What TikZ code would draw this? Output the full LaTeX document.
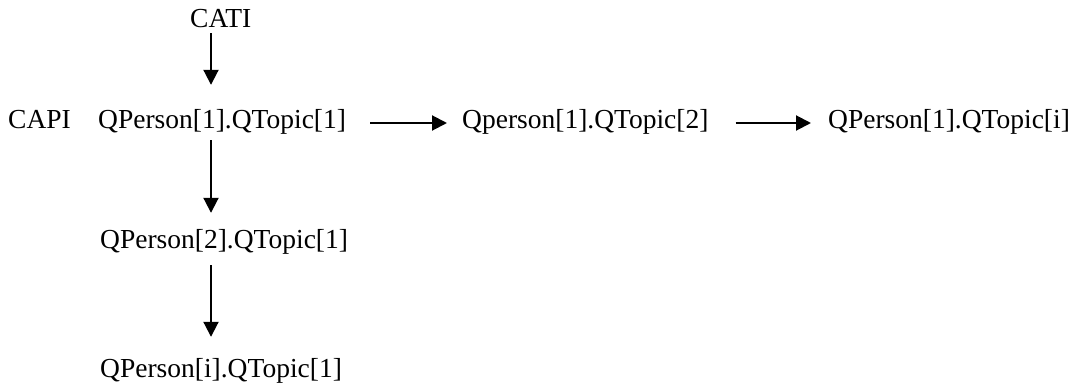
\documentclass[tikz,border=0pt]{standalone}
\usepackage{fontspec}
\setmainfont{Liberation Serif}
\usetikzlibrary{arrows.meta}
\begin{document}
\begin{tikzpicture}[x=1pt,y=-1pt,
  lbl/.style={anchor=base west,inner sep=0pt,text height=20pt,text depth=6pt,font=\fontsize{27.5}{33}\selectfont},
  arr/.style={line width=2pt,-{Triangle[length=15pt,width=15pt]}}]
\useasboundingbox (0,0) rectangle (1072,383);
\coordinate (axis) at (211,0);
\node[lbl] (cati) at (190,27) {CATI};
\node[lbl] (capi) at (8,128) {CAPI};
\node[lbl] (q11) at (98,128) {QPerson[1].QTopic[1]};
\node[lbl] (q12) at (462,128) {Qperson[1].QTopic[2]};
\node[lbl] (q1i) at (828,128) {QPerson[1].QTopic[i]};
\node[lbl] (q21) at (100,248) {QPerson[2].QTopic[1]};
\node[lbl] (qi1) at (100,377) {QPerson[i].QTopic[1]};
\draw[arr,shorten >=23pt] (cati.south -| axis) -- (q11.north -| axis);
\draw[arr,shorten <=6pt,shorten >=15pt] (q11.south -| axis) -- (q21.north -| axis);
\draw[arr,shorten <=11pt,shorten >=20pt] (q21.south -| axis) -- (qi1.north -| axis);
\draw[arr,shorten <=24pt,shorten >=15pt] ([yshift=-2pt]q11.east) -- ([yshift=-2pt]q12.west);
\draw[arr,shorten <=27pt,shorten >=17pt] ([yshift=-2pt]q12.east) -- ([yshift=-2pt]q1i.west);
\end{tikzpicture}
\end{document}
